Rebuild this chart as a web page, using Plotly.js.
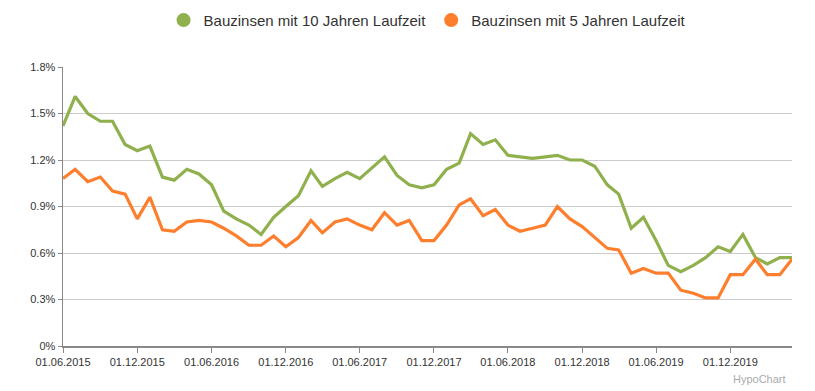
<!DOCTYPE html>
<html>
<head>
<meta charset="utf-8">
<script src="https://cdn.plot.ly/plotly-3.0.1.min.js"></script>
<style>html,body{margin:0;padding:0;background:#fff;}#chart{width:815px;height:391px;}</style>
</head>
<body>
<div id="chart"></div>
<script>
// Monthly dates June 2015 - May 2020
const months = [
"2015-06-01","2015-07-01","2015-08-01","2015-09-01","2015-10-01","2015-11-01","2015-12-01",
"2016-01-01","2016-02-01","2016-03-01","2016-04-01","2016-05-01","2016-06-01","2016-07-01",
"2016-08-01","2016-09-01","2016-10-01","2016-11-01","2016-12-01","2017-01-01","2017-02-01",
"2017-03-01","2017-04-01","2017-05-01","2017-06-01","2017-07-01","2017-08-01","2017-09-01",
"2017-10-01","2017-11-01","2017-12-01","2018-01-01","2018-02-01","2018-03-01","2018-04-01",
"2018-05-01","2018-06-01","2018-07-01","2018-08-01","2018-09-01","2018-10-01","2018-11-01",
"2018-12-01","2019-01-01","2019-02-01","2019-03-01","2019-04-01","2019-05-01","2019-06-01",
"2019-07-01","2019-08-01","2019-09-01","2019-10-01","2019-11-01","2019-12-01","2020-01-01",
"2020-02-01","2020-03-01","2020-04-01","2020-05-01"];

const zins10 = [1.42,1.61,1.50,1.45,1.45,1.30,1.26,1.29,1.09,1.07,1.14,1.11,1.04,0.87,0.82,0.78,0.72,0.83,0.90,
0.97,1.13,1.03,1.08,1.12,1.08,1.15,1.22,1.10,1.04,1.02,1.04,1.14,1.18,1.37,1.30,1.33,1.23,1.22,1.21,1.22,
1.23,1.20,1.20,1.16,1.04,0.98,0.76,0.83,0.68,0.52,0.48,0.52,0.57,0.64,0.61,0.72,0.57,0.53,0.57,0.57];

const zins5 = [1.08,1.14,1.06,1.09,1.00,0.98,0.82,0.96,0.75,0.74,0.80,0.81,0.80,0.76,0.71,0.65,0.65,0.71,0.64,
0.70,0.81,0.73,0.80,0.82,0.78,0.75,0.86,0.78,0.81,0.68,0.68,0.78,0.91,0.95,0.84,0.88,0.78,0.74,0.76,0.78,
0.90,0.82,0.77,0.70,0.63,0.62,0.47,0.50,0.47,0.47,0.36,0.34,0.31,0.31,0.46,0.46,0.56,0.46,0.46,0.56];

const seriesNames = ["Bauzinsen mit 10 Jahren Laufzeit","Bauzinsen mit 5 Jahren Laufzeit"];
const yTickVals = [0,0.3,0.6,0.9,1.2,1.5,1.8];
const yTickText = ["0%","0.3%","0.6%","0.9%","1.2%","1.5%","1.8%"];

const green = "#8fb04c";
const orange = "#fd7e2d";

const traces = [
  {x: months, y: zins10, type: "scatter", mode: "lines", line: {color: green, width: 3.2}, showlegend: false, hoverinfo: "skip"},
  {x: months, y: zins5, type: "scatter", mode: "lines", line: {color: orange, width: 3.2}, showlegend: false, hoverinfo: "skip"},
  {x: [null], y: [null], type: "scatter", mode: "markers", name: seriesNames[0], marker: {color: green, size: 14}},
  {x: [null], y: [null], type: "scatter", mode: "markers", name: seriesNames[1], marker: {color: orange, size: 14}}
];

const layout = {
  width: 815, height: 391,
  margin: {l: 63, r: 23, t: 67, b: 45},
  paper_bgcolor: "#fff", plot_bgcolor: "#fff",
  font: {family: "Liberation Sans, Arial, sans-serif", color: "#333", size: 11},
  showlegend: true,
  legend: {orientation: "h", xref: "container", yref: "container", x: 0.524, xanchor: "center",
           y: 0.948, yanchor: "middle",
           font: {size: 15, color: "#333"}, itemwidth: 30, tracegroupgap: 0},
  xaxis: {
    type: "date", range: ["2015-06-01", "2020-05-01"],
    tick0: "2015-06-01", dtick: "M6", tickformat: "%d.%m.%Y",
    showgrid: false, zeroline: false,
    showline: true, linecolor: "#888", linewidth: 1.5,
    ticks: "outside", ticklen: 5, tickcolor: "#888", tickwidth: 1,
    tickfont: {size: 11, color: "#333"}
  },
  yaxis: {
    range: [0, 1.8], tickvals: yTickVals, ticktext: yTickText,
    showgrid: true, gridcolor: "#cccccc", gridwidth: 1, zeroline: false,
    showline: true, linecolor: "#888", linewidth: 1.5,
    ticks: "outside", ticklen: 4, tickcolor: "#888", tickwidth: 1,
    tickfont: {size: 11, color: "#333"}
  },
  annotations: [{
    text: "HypoChart", xref: "paper", yref: "paper", x: 0.995, y: -0.09,
    xanchor: "right", yanchor: "top", showarrow: false,
    font: {size: 11, color: "#aaa"}
  }]
};

Plotly.newPlot("chart", traces, layout, {displayModeBar: false, staticPlot: true});
</script>
</body>
</html>
